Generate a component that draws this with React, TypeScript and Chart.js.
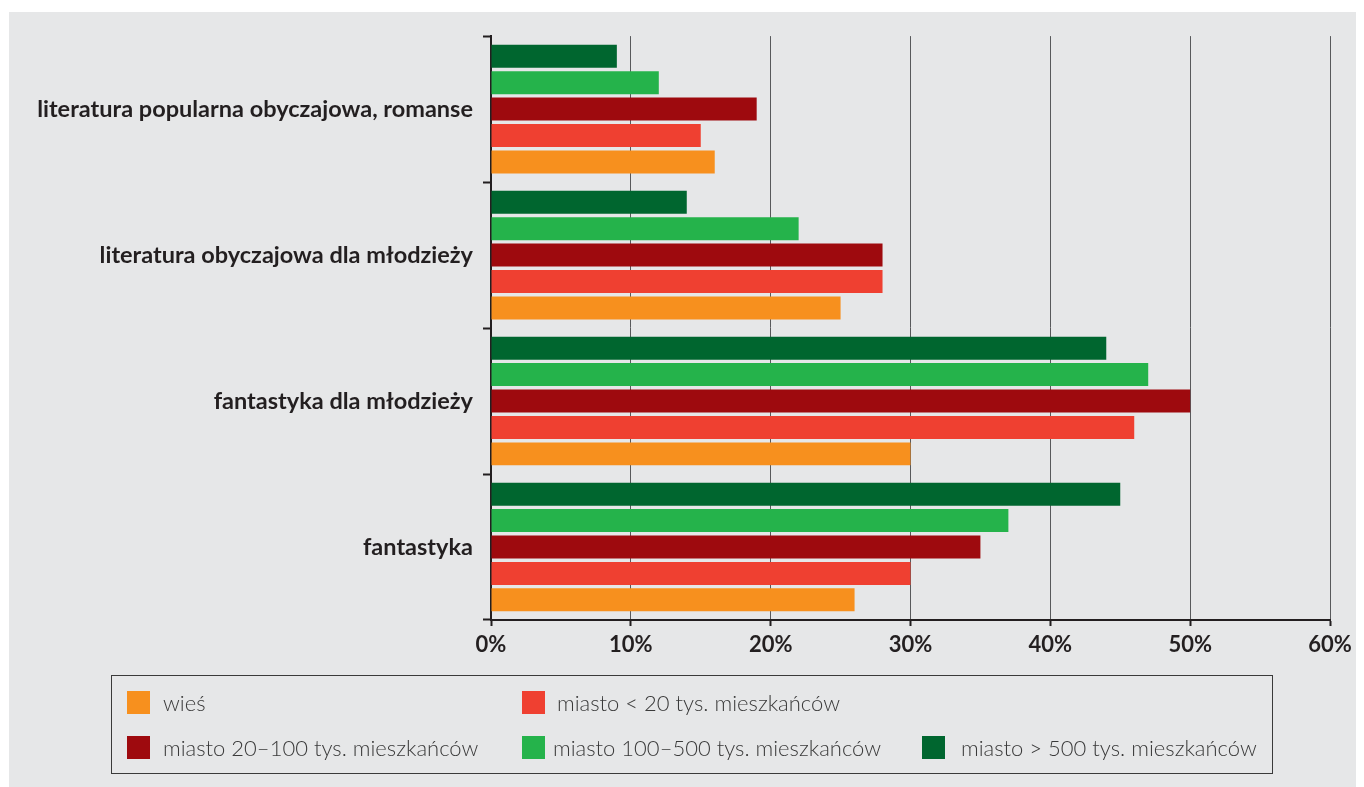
import React, { useEffect, useRef } from "react";
import { Chart, registerables } from "chart.js";

Chart.register(...registerables);

const categories = [
  "literatura popularna obyczajowa, romanse",
  "literatura obyczajowa dla młodzieży",
  "fantastyka dla młodzieży",
  "fantastyka",
];

const seriesNames = [
  "wieś",
  "miasto < 20 tys. mieszkańców",
  "miasto 20–100 tys. mieszkańców",
  "miasto 100–500 tys. mieszkańców",
  "miasto > 500 tys. mieszkańców",
];

const wies = [16, 25, 30, 26];
const miastoDo20 = [15, 28, 46, 30];
const miasto20do100 = [19, 28, 50, 35];
const miasto100do500 = [12, 22, 47, 37];
const miastoPonad500 = [9, 14, 44, 45];

const seriesValues = [wies, miastoDo20, miasto20do100, miasto100do500, miastoPonad500];
const seriesColors = ["#f7901e", "#ef4031", "#9e0a0e", "#25b34b", "#00662f"];

const xTicks = [0, 10, 20, 30, 40, 50, 60];

const TEXT = "#231f20";
const BG = "#e6e7e8";

export default function App() {
  const canvasRef = useRef<HTMLCanvasElement | null>(null);

  useEffect(() => {
    const canvas = canvasRef.current;
    if (!canvas) return;
    // top-to-bottom order within a category: > 500 first, wieś last
    const order = [4, 3, 2, 1, 0];
    const chart = new Chart(canvas, {
      type: "bar",
      data: {
        labels: categories,
        datasets: order.map((i) => ({
          label: seriesNames[i],
          data: seriesValues[i],
          backgroundColor: seriesColors[i],
          borderWidth: 0,
          categoryPercentage: 0.905,
          barPercentage: 0.87,
        })),
      },
      options: {
        indexAxis: "y",
        animation: false,
        responsive: false,
        maintainAspectRatio: false,
        layout: { padding: { left: 0, right: 34, top: 23, bottom: 0 } },
        plugins: {
          legend: { display: false },
          tooltip: { enabled: false },
        },
        scales: {
          x: {
            min: 0,
            max: 60,
            afterBuildTicks: (s: any) => {
              s.ticks = xTicks.map((v) => ({ value: v }));
            },
            afterFit: (s: any) => {
              s.height = 57;
            },
            grid: {
              color: "#58595b",
              lineWidth: 1,
              tickColor: TEXT,
              tickWidth: 2,
              tickLength: 6,
              drawOnChartArea: true,
            },
            border: { display: true, color: TEXT, width: 2 },
            ticks: {
              color: TEXT,
              padding: 6,
              font: { family: "Lato", weight: "bold", size: 22 },
              callback: (v: any) => v + "%",
            },
          },
          y: {
            z: 1,
            afterFit: (s: any) => {
              s.width = 482;
            },
            grid: {
              drawOnChartArea: false,
              color: TEXT,
              tickColor: TEXT,
              tickWidth: 2,
              tickLength: 8,
              offset: true,
            },
            border: { display: true, color: TEXT, width: 2 },
            ticks: {
              color: TEXT,
              padding: 10,
              font: { family: "Lato", weight: "bold", size: 23.5 },
            },
          },
        },
      },
    });
    return () => chart.destroy();
  }, []);

  const legendItems = [
    { i: 0, sx: 118, tx: 154, y: 679 },
    { i: 1, sx: 513, tx: 548, y: 679 },
    { i: 2, sx: 118, tx: 154, y: 724 },
    { i: 3, sx: 513, tx: 544, y: 724 },
    { i: 4, sx: 913, tx: 952, y: 724 },
  ];

  return (
    <div
      style={{
        position: "relative",
        marginTop: 4,
        marginLeft: 1,
        width: 1355,
        height: 775,
        background: BG,
        overflow: "hidden",
      }}
    >
      <canvas
        ref={canvasRef}
        width={1355}
        height={665}
        style={{ position: "absolute", left: 0, top: 0, width: 1355, height: 665 }}
      />
      <div
        style={{
          position: "absolute",
          left: 102,
          top: 663,
          width: 1162,
          height: 99,
          boxSizing: "border-box",
          border: "1.5px solid #3a3a3a",
        }}
      />
      {legendItems.map((it) => (
        <React.Fragment key={it.i}>
          <div
            style={{
              position: "absolute",
              left: it.sx,
              top: it.y,
              width: 23,
              height: 23,
              background: seriesColors[it.i],
            }}
          />
          <div
            style={{
              position: "absolute",
              left: it.tx,
              top: it.y - 2,
              height: 27,
              lineHeight: "27px",
              fontFamily: "Lato",
              fontWeight: 300,
              fontSize: 22,
              color: "#3a3a3a",
              whiteSpace: "nowrap",
            }}
          >
            {seriesNames[it.i]}
          </div>
        </React.Fragment>
      ))}
    </div>
  );
}
